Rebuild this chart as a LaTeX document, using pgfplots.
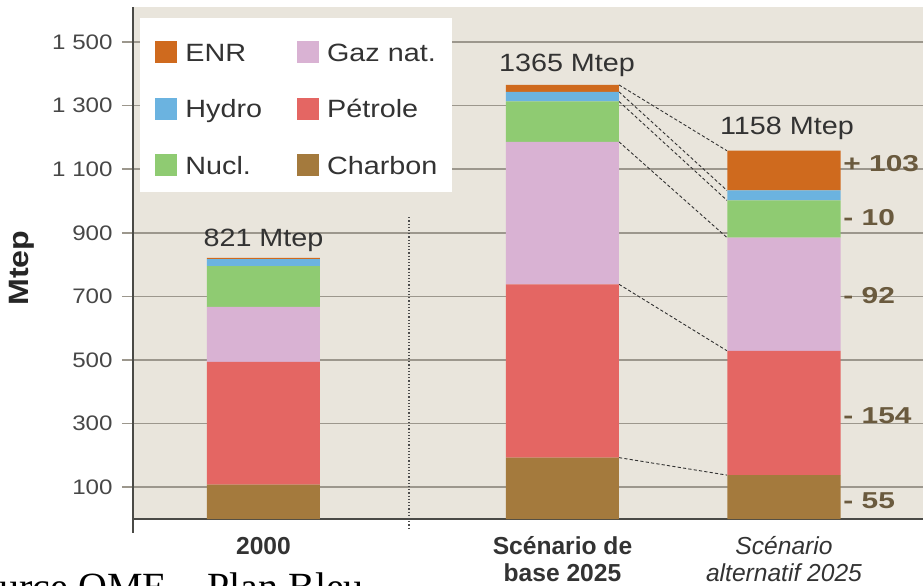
\documentclass[border=0pt]{standalone}
\usepackage{fontspec}
\setmainfont{Liberation Sans}[FakeStretch=1.15]
\newfontfamily\xlabfont{Liberation Sans}
\newfontfamily\chgfont{Liberation Sans}[FakeStretch=1.3]
\newfontfamily\srcfont{Liberation Serif}
\usepackage{pgfplots}
\pgfplotsset{compat=1.18}
\definecolor{bg}{HTML}{E9E5DC}
\definecolor{enrC}{HTML}{CF6A1E}
\definecolor{hydC}{HTML}{6BB3E0}
\definecolor{nucC}{HTML}{8FCB72}
\definecolor{gazC}{HTML}{D9B2D3}
\definecolor{petC}{HTML}{E46663}
\definecolor{chaC}{HTML}{A47A3D}
\definecolor{gridC}{HTML}{9C978D}
\definecolor{axC}{HTML}{4A4A46}
\definecolor{txtC}{HTML}{333333}
\definecolor{chgC}{HTML}{6A5A3E}
\tikzset{chg/.style={anchor=west, inner sep=0pt, font=\chgfont\bfseries\fontsize{11.5}{13}\selectfont, text=chgC},
  tot/.style={font=\fontsize{12.5}{14}\selectfont, text=txtC}}
\begin{document}
\begin{tikzpicture}
\begin{axis}[
  at={(0,0)}, anchor=south west,
  scale only axis, width=395pt, height=256pt,
  xmin=133, xmax=923, ymin=0, ymax=1610,
  ybar stacked, bar width=113,
  axis background/.style={fill=bg},
  axis lines=left,
  axis line style={-, draw=axC, line width=0.9pt},
  clip=false,
  ytick={100,300,500,700,900,1100,1300,1500},
  yticklabels={100,300,500,700,900,1 100,1 300,1 500},
  ymajorgrids, grid style={gridC, line width=0.75pt},
  tick align=outside, major tick length=5.5pt,
  ytick style={draw=gridC, line width=0.75pt},
  xtick style={draw=none},
  yticklabel style={font=\fontsize{10.5}{12}\selectfont, text=txtC!90, inner sep=0pt, anchor=east, xshift=-4.5pt},
  xtick={263.5,562.5,784},
  xticklabels={{\bfseries 2000\strut},{\bfseries Scénario de\strut\\\bfseries base 2025},{\itshape Scénario\strut\\\itshape alternatif 2025}},
  xticklabel style={align=center, font=\xlabfont\fontsize{12.3}{13.5}\selectfont, text=txtC, inner sep=0pt, anchor=north, yshift=-2.4pt},
  ylabel={Mtep},
  ylabel style={at={(axis description cs:-0.1405,0.49)}, anchor=center, font=\fontsize{14}{16}\selectfont\bfseries, text=black!85},
  reverse legend, transpose legend, legend columns=3, legend cell align=left,
  legend style={at={(axis description cs:0.0089,0.9785)}, anchor=north west, draw=none, fill=white,
    inner xsep=7.5pt, inner ysep=8pt, row sep=17.25pt, column sep=4pt,
    nodes={inner sep=0pt, text height=10pt, text depth=1pt, font=\fontsize{12.5}{14}\selectfont, text=txtC},
    /tikz/every even column/.append style={column sep=17.5pt}},
]
% Charbon, Petrole, Gaz, Nucl, Hydro, ENR (bottom to top)
\addplot[fill=chaC, draw=none, legend image code/.code={\fill[chaC] (0pt,-5.5pt) rectangle (11pt,5.5pt);}] coordinates {(263.5,108) (562.5,193) (784,138)};
\addlegendentry{Charbon}
\addplot[fill=petC, draw=none, legend image code/.code={\fill[petC] (0pt,-5.5pt) rectangle (11pt,5.5pt);}] coordinates {(263.5,386) (562.5,545) (784,391)};
\addlegendentry{Pétrole}
\addplot[fill=gazC, draw=none, legend image code/.code={\path (0pt,9pt); \fill[gazC] (0pt,-5.5pt) rectangle (11pt,5.5pt);}] coordinates {(263.5,173) (562.5,448) (784,356)};
\addlegendentry{Gaz nat.}
\addplot[fill=nucC, draw=none, legend image code/.code={\fill[nucC] (0pt,-5.5pt) rectangle (11pt,5.5pt);}] coordinates {(263.5,128) (562.5,127) (784,117)};
\addlegendentry{Nucl.}
\addplot[fill=hydC, draw=none, legend image code/.code={\fill[hydC] (0pt,-5.5pt) rectangle (11pt,5.5pt);}] coordinates {(263.5,22) (562.5,30) (784,31)};
\addlegendentry{Hydro}
\addplot[fill=enrC, draw=none, legend image code/.code={\path (0pt,9pt); \fill[enrC] (0pt,-5.5pt) rectangle (11pt,5.5pt);}] coordinates {(263.5,4) (562.5,22) (784,125)};
\addlegendentry{ENR}

% connectors
\draw[gray!40!black, line width=0.45pt, dash pattern=on 1.6pt off 1.1pt]
  (axis cs:619,1365) -- (axis cs:727,1158)
  (axis cs:619,1343) -- (axis cs:727,1033)
  (axis cs:619,1313) -- (axis cs:727,1002)
  (axis cs:619,1186) -- (axis cs:727,885)
  (axis cs:619,738) -- (axis cs:727,529)
  (axis cs:619,193) -- (axis cs:727,138);
% divider
\draw[black!70, line width=0.6pt, densely dotted] (axis cs:409,949) -- (axis cs:409,-29);
% axis extension
\draw[axC, line width=0.9pt] (axis cs:133,0) -- (axis cs:133,-44);

% totals
\node[tot] at (axis cs:263.5,877) {821 Mtep};
\node[tot] at (axis cs:567,1427) {1365 Mtep};
\node[tot] at (axis cs:787,1229) {1158 Mtep};

% changes
\node[chg] at (axis cs:843,1119) {+ 103};
\node[chg] at (axis cs:843,949) {- 10};
\node[chg] at (axis cs:843,704) {- 92};
\node[chg] at (axis cs:843,326) {- 154};
\node[chg] at (axis cs:843,59) {- 55};

\node[anchor=base west, inner sep=0pt, font=\srcfont\fontsize{20}{24}\selectfont, text=black] at (axis cs:-43,-255) {Source OME – Plan Bleu};
\end{axis}
\pgfresetboundingbox
\path[use as bounding box] (-66.5pt,-33pt) rectangle (395pt,259.5pt);
\end{tikzpicture}
\end{document}
